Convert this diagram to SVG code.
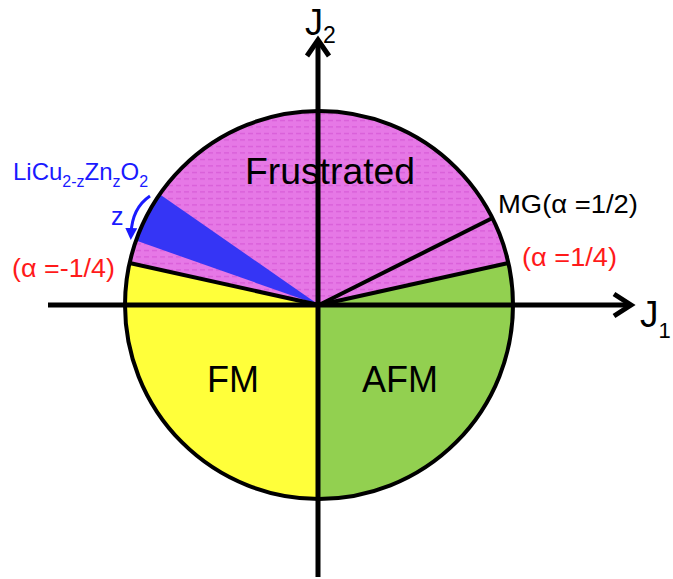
<svg xmlns="http://www.w3.org/2000/svg" width="673" height="579" viewBox="0 0 673 579">
<style>
text{font-family:"Liberation Sans",Arial,sans-serif}
.lbl{font-size:25px}
.big{font-size:36px;fill:#000}
.bnd{stroke:#000;stroke-width:4;fill:none}
.axis{stroke:#000;stroke-width:5;fill:none}
</style>
<defs>
<pattern id="pinkp" width="8" height="6.5" patternUnits="userSpaceOnUse">
<rect width="8" height="6.5" fill="#e678e6"/>
<rect y="3" width="5" height="1" fill="#d455d4"/>
</pattern>
<marker id="bah" viewBox="0 0 10 10" refX="5" refY="5" markerWidth="4" markerHeight="4" orient="auto">
<path d="M0,0 L10,5 L0,10 Z" fill="#1a1aff"/>
</marker>
</defs>
<g id="regions">
<path id="frustrated-region" d="M319,305 L508.4,263 A194,194 0 0 0 129.6,263 Z" fill="url(#pinkp)"/>
<path id="fm-region" d="M319,305 L129.6,263 A194,194 0 0 0 319,499 Z" fill="#ffff3a"/>
<path id="afm-region" d="M319,305 L319,499 A194,194 0 0 0 508.4,263 Z" fill="#92d050"/>
<path id="licu-wedge" d="M319,305 L159.7,194.3 A194,194 0 0 0 136,240.6 Z" fill="#3535f5"/>
</g>
<g id="connectors">
<line class="bnd" x1="319" y1="305" x2="508.4" y2="263"/>
<line class="bnd" x1="319" y1="305" x2="492.5" y2="218"/>
<line class="bnd" x1="319" y1="305" x2="129.6" y2="263"/>
<circle class="bnd" cx="319" cy="305" r="194"/>
<line class="axis" x1="48" y1="305" x2="629" y2="305"/>
<path class="axis" d="M614,294 L631,305 L614,316"/>
<line class="axis" x1="318" y1="577" x2="318" y2="42"/>
<path class="axis" d="M307,56 L318,40 L329,56"/>
<path d="M150,196 Q132,208 131,234" fill="none" stroke="#1a1aff" stroke-width="3" marker-end="url(#bah)"/>
</g>
<g id="labels">
<text class="big" x="245" y="184" textLength="170" lengthAdjust="spacingAndGlyphs">Frustrated</text>
<text class="big" x="207" y="392">FM</text>
<text class="big" x="362" y="392">AFM</text>
<text x="640" y="327" font-size="37">J<tspan font-size="22" dy="11">1</tspan></text>
<text x="305" y="35" font-size="36">J<tspan font-size="23" dy="8">2</tspan></text>
<text class="lbl" x="498" y="213" fill="#000" textLength="140" lengthAdjust="spacingAndGlyphs">MG(α =1/2)</text>
<text class="lbl" x="522" y="266" fill="#ff1a1a" textLength="95" lengthAdjust="spacingAndGlyphs">(α =1/4)</text>
<text class="lbl" x="12" y="277" fill="#ff1a1a" textLength="103" lengthAdjust="spacingAndGlyphs">(α =-1/4)</text>
<text x="13" y="180" font-size="24" fill="#1a1aff">LiCu<tspan font-size="16" dy="7">2-z</tspan><tspan dy="-7">Zn</tspan><tspan font-size="16" dy="7">z</tspan><tspan dy="-7">O</tspan><tspan font-size="16" dy="7">2</tspan></text>
<text x="111" y="225" font-size="25" fill="#1a1aff">z</text>
</g>
</svg>
